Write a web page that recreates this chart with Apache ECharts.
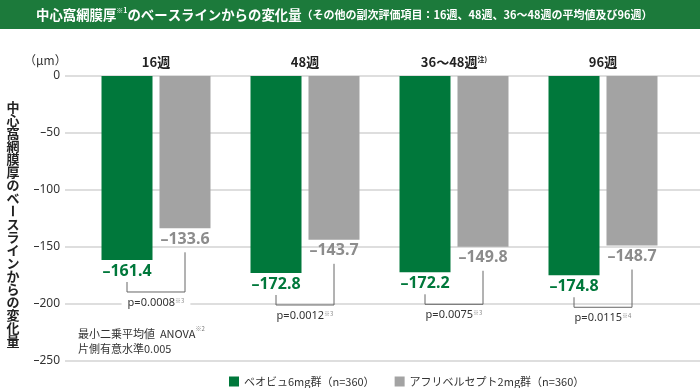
<!DOCTYPE html>
<html><head><meta charset="utf-8">
<script src="https://cdn.jsdelivr.net/npm/echarts@6/dist/echarts.min.js"></script>
<style>html,body{margin:0;padding:0;background:#fff}#c{width:700px;height:388px}</style>
</head><body><div id="c"></div>
<script>
var categories = ['16週', '48週', '36～48週', '96週'];
var categoryNotes = ['', '', '注)', ''];
var beovu = [-161.4, -172.8, -172.2, -174.8];
var aflibercept = [-133.6, -143.7, -149.8, -148.7];
var pValues = ['p=0.0008', 'p=0.0012', 'p=0.0075', 'p=0.0115'];
var pNotes = ['※3', '※3', '※3', '※4'];
var yMin = -250, yMax = 0, yInterval = 50;
var seriesNames = ['ベオビュ6mg群（n=360）', 'アフリベルセプト2mg群（n=360）'];

var GREEN = '#00783b', GRAY = '#a3a3a3';
var JP = '"Noto Sans CJK JP", "Noto Sans", sans-serif';
var NUM = '"Noto Sans", "Noto Sans CJK JP", sans-serif';
var BAR_W = 51, BAR_GAP_PX = 7;

function dash(v){ return String(v).replace('-', '–'); }

var bracketData = categories.map(function(c, i){ return [i, beovu[i], aflibercept[i]]; });

var chart = echarts.init(document.getElementById('c'), null, {renderer: 'canvas'});
chart.setOption({
  animation: false,
  textStyle: {fontFamily: JP},
  grid: [
    {left: 65, right: 0, top: 76, bottom: 27},
    {left: 81.5, right: 22.5, top: 76, bottom: 27}
  ],
  xAxis: [
    {gridIndex: 0, type: 'value', show: false, min: 0, max: 1},
    {gridIndex: 1, type: 'category', data: categories, position: 'top',
      axisLine: {show: false}, axisTick: {show: false},
      axisLabel: {interval: 0, margin: 7, color: '#222', fontSize: 13, fontWeight: 'bold', fontFamily: JP,
        formatter: function(v, i){ return categoryNotes[i] ? '{m|' + v + '}{s|' + categoryNotes[i] + '}' : '{m|' + v + '}'; },
        rich: {
          m: {fontSize: 13, fontWeight: 'bold', color: '#222', fontFamily: JP},
          s: {fontSize: 7, fontWeight: 'bold', color: '#222', verticalAlign: 'top', padding: [0, 0, 6, 0], fontFamily: JP}
        }}
    }
  ],
  yAxis: [
    {gridIndex: 0, type: 'value', min: yMin, max: yMax, interval: yInterval,
      axisLine: {show: false}, axisTick: {show: false},
      axisLabel: {margin: 5, color: '#333', fontSize: 12, fontFamily: NUM, formatter: function(v){ return dash(v); }},
      splitLine: {show: true, lineStyle: {color: '#d3d3d3', width: 1.5}}
    },
    {gridIndex: 1, type: 'value', min: yMin, max: yMax, interval: yInterval, show: false, splitLine: {show: false}}
  ],
  legend: {
    left: 224, top: 371, icon: 'rect', itemWidth: 10, itemHeight: 10, itemGap: 20,
    textStyle: {fontSize: 11, color: '#333', fontFamily: JP},
    data: seriesNames
  },
  graphic: [
    {type: 'rect', left: 0, top: 0, shape: {width: 700, height: 29}, style: {fill: '#1c7a3b'}, z: 0},
    {type: 'text', left: 36, top: 7, z: 10, style: {
      text: '{a|中心窩網膜厚}{s|※1}{a|のベースラインからの変化量}{b|（その他の副次評価項目：16週、48週、36～48週の平均値及び96週）}',
      rich: {
        a: {fontSize: 13.4, fontWeight: 'bold', fill: '#fff', fontFamily: JP},
        s: {fontSize: 7, fontWeight: 'bold', fill: '#fff', verticalAlign: 'top', padding: [0, 0, 8, 0], fontFamily: JP},
        b: {fontSize: 11, fontWeight: 'bold', fill: '#fff', fontFamily: JP}
      }
    }},
    {type: 'text', left: 24, top: 54, style: {text: '（μm）', font: '12px ' + JP, fill: '#333'}},
    {type: 'text', left: 6.5, top: 101, style: {text: '中心窩網膜厚のベ'.split('').join('\n'), font: 'bold 13px ' + JP, fill: '#222', lineHeight: 13, align: 'left'}},
    {type: 'text', x: 13, y: 211, rotation: -Math.PI / 2, style: {text: 'ー', font: 'bold 13px ' + JP, fill: '#222', align: 'center', verticalAlign: 'middle'}},
    {type: 'text', left: 6.5, top: 218, style: {text: 'スラインからの変化量'.split('').join('\n'), font: 'bold 13px ' + JP, fill: '#222', lineHeight: 13, align: 'left'}},
    {type: 'text', left: 78, top: 326, style: {
      text: '{a|最小二乗平均値  ANOVA}{s|※2}\n{a|片側有意水準0.005}',
      rich: {
        a: {fontSize: 11, fill: '#333', fontFamily: JP, lineHeight: 15},
        s: {fontSize: 6, fill: '#777', verticalAlign: 'top', padding: [0, 0, 5, 0], fontFamily: JP, lineHeight: 15}
      }
    }}
  ],
  series: [
    {name: seriesNames[0], type: 'bar', xAxisIndex: 1, yAxisIndex: 1, data: beovu,
      barWidth: BAR_W, barGap: (BAR_GAP_PX / BAR_W * 100).toFixed(1) + '%',
      itemStyle: {color: GREEN},
      label: {show: true, position: 'bottom', distance: 3, color: GREEN, fontSize: 16, fontWeight: 'bold', fontFamily: NUM,
        formatter: function(p){ return dash(p.value); }}
    },
    {name: seriesNames[1], type: 'bar', xAxisIndex: 1, yAxisIndex: 1, data: aflibercept,
      barWidth: BAR_W,
      itemStyle: {color: GRAY},
      label: {show: true, position: 'bottom', distance: 3, color: '#8c8c8c', fontSize: 16, fontWeight: 'bold', fontFamily: NUM,
        formatter: function(p){ return dash(p.value); }}
    },
    {type: 'custom', xAxisIndex: 1, yAxisIndex: 1, data: bracketData, z: 10, clip: false,
      encode: {x: 0, y: 1}, silent: true,
      renderItem: function(params, api){
        var i = api.value(0);
        var g = api.coord([i, api.value(1)]);
        var a = api.coord([i, api.value(2)]);
        var off = (BAR_W + BAR_GAP_PX) / 2;
        var xl = g[0] - off, xr = g[0] + off;
        var yb = g[1] + 32;
        return {type: 'group', children: [
          {type: 'polyline', shape: {points: [[xl, g[1] + 22], [xl, yb], [xr, yb], [xr, a[1] + 24]]},
            style: {stroke: '#666', lineWidth: 1, fill: null}},
          {type: 'text', style: {
            text: '{a|' + pValues[i] + '}{s|' + pNotes[i] + '}',
            x: g[0], y: yb + 11, align: 'center', verticalAlign: 'middle',
            backgroundColor: '#fff', padding: [1, 6],
            rich: {
              a: {fontSize: 11, fill: '#333', fontFamily: NUM},
              s: {fontSize: 6, fill: '#888', verticalAlign: 'top', padding: [0, 0, 5, 0], fontFamily: JP}
            }
          }}
        ]};
      }
    }
  ]
});
</script></body></html>
